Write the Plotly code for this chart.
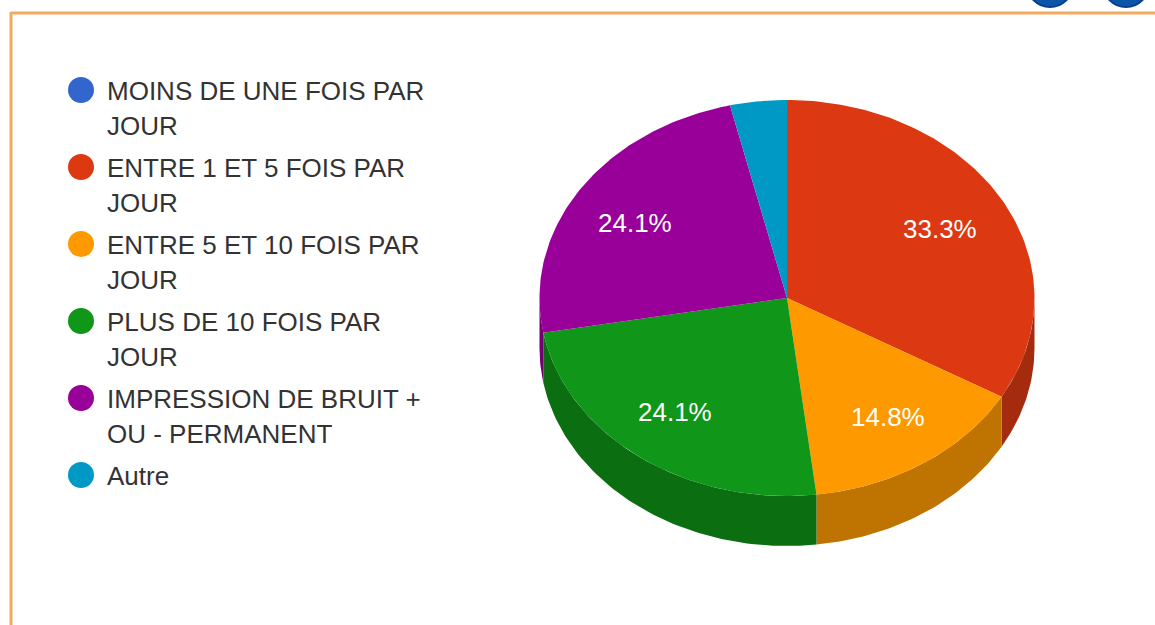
import math
import plotly.graph_objects as go

categories = ["MOINS DE UNE FOIS PAR JOUR", "ENTRE 1 ET 5 FOIS PAR JOUR", "ENTRE 5 ET 10 FOIS PAR JOUR",
              "PLUS DE 10 FOIS PAR JOUR", "IMPRESSION DE BRUIT + OU - PERMANENT", "Autre"]
legend_lines = [["MOINS DE UNE FOIS PAR", "JOUR"], ["ENTRE 1 ET 5 FOIS PAR", "JOUR"],
                ["ENTRE 5 ET 10 FOIS PAR", "JOUR"], ["PLUS DE 10 FOIS PAR", "JOUR"],
                ["IMPRESSION DE BRUIT +", "OU - PERMANENT"], ["Autre"]]
values = [0, 33.3, 14.8, 24.1, 24.1, 3.7]
top_colors = ["#3366cc", "#dc3912", "#ff9900", "#109618", "#990099", "#0099c6"]
side_colors = ["#264c99", "#a52b0e", "#bf7300", "#0b6e11", "#730073", "#007394"]
label_shifts = {1: (3, 0), 2: (5, 3), 3: (-9, 3), 4: (-7, 1)}

CX, CY, RX, RY, DEPTH = 787, 298, 247.5, 198, 50
FONT = "Liberation Sans, Arial, sans-serif"
TEXT = "#333333"
FS = 26


def arc(a0, a1, dy=0, step=1.0):
    n = max(2, int(abs(a1 - a0) / step) + 1)
    angs = [a0 + (a1 - a0) * i / (n - 1) for i in range(n)]
    return ([CX + RX * math.sin(math.radians(a)) for a in angs],
            [CY - RY * math.cos(math.radians(a)) + dy for a in angs])


total = sum(values)
edges = [0.0]
for v in values:
    edges.append(edges[-1] + v / total * 360)

fig = go.Figure()

# extruded side walls (only the front half of the rim shows)
for i, v in enumerate(values):
    a0, a1 = max(edges[i], 90), min(edges[i + 1], 270)
    if v == 0 or a1 <= a0:
        continue
    xa, ya = arc(a0, a1)
    xb, yb = arc(a1, a0, DEPTH)
    fig.add_trace(go.Scatter(x=xa + xb, y=ya + yb, mode="lines", fill="toself",
                             fillcolor=side_colors[i], line=dict(width=0),
                             hoverinfo="skip", showlegend=False))

# top faces
for i, v in enumerate(values):
    if v == 0:
        continue
    xa, ya = arc(edges[i], edges[i + 1])
    fig.add_trace(go.Scatter(x=[CX] + xa + [CX], y=[CY] + ya + [CY], mode="lines", fill="toself",
                             fillcolor=top_colors[i], line=dict(width=0),
                             name=categories[i], hoverinfo="name", showlegend=False))

annotations = []
# slice labels
for i, (dx, dy) in label_shifts.items():
    mid = math.radians((edges[i] + edges[i + 1]) / 2)
    annotations.append(dict(x=CX + 0.7 * RX * math.sin(mid), y=CY - 0.7 * RY * math.cos(mid),
                            xref="x", yref="y", xshift=dx, yshift=-dy, showarrow=False,
                            text=f"{values[i]:.1f}%", font=dict(family=FONT, size=FS, color="#ffffff")))

# legend
LX, LTX, LY, LINE, GAP = 81, 107, 90, 35.2, 6.6
y = LY
lx, ly = [], []
for i, lines in enumerate(legend_lines):
    lx.append(LX)
    ly.append(y)
    for line in lines:
        annotations.append(dict(x=LTX, y=y, xref="x", yref="y", xanchor="left", yanchor="middle",
                                showarrow=False, text=line, xshift=-2, yshift=-1,
                                font=dict(family=FONT, size=FS, color=TEXT)))
        y += LINE
    y += GAP
fig.add_trace(go.Scatter(x=lx, y=ly, mode="markers", showlegend=False, hoverinfo="skip",
                         marker=dict(size=26, color=top_colors, line=dict(width=0))))

FRAME = "#f2a95e"
shapes = [
    dict(type="line", x0=11, x1=1155, y0=13, y1=13, line=dict(color=FRAME, width=3)),
    dict(type="line", x0=11, x1=11, y0=12, y1=625, line=dict(color=FRAME, width=3)),
    dict(type="circle", x0=1027, x1=1073, y0=-39, y1=7, fillcolor="#0b55a8", line=dict(color="#0a3f8f", width=2)),
    dict(type="circle", x0=1103, x1=1149, y0=-39, y1=7, fillcolor="#0b55a8", line=dict(color="#0a3f8f", width=2)),
]

fig.update_layout(
    width=1155, height=625, margin=dict(l=0, r=0, t=0, b=0), paper_bgcolor="white", plot_bgcolor="white",
    xaxis=dict(range=[0, 1155], visible=False, fixedrange=True),
    yaxis=dict(range=[625, 0], visible=False, fixedrange=True),
    showlegend=False, shapes=shapes, annotations=annotations,
    hovermode="closest",
)
fig.write_html("out.html", config={"displayModeBar": False},
               post_script="document.body.style.margin='0';document.body.style.overflow='hidden';")
